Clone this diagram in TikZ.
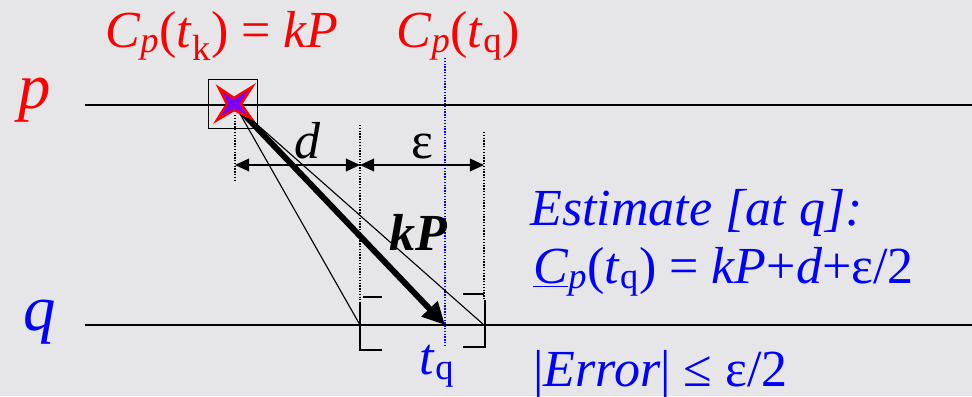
\documentclass[tikz,border=0pt]{standalone}
\usepackage{fontspec}
\newfontfamily\slidefont{Liberation Serif}
\usetikzlibrary{arrows.meta, positioning}
\definecolor{marble}{RGB}{230,230,232}
\definecolor{clockred}{RGB}{255,0,0}
\definecolor{clockblue}{RGB}{0,0,255}
\definecolor{starfill}{RGB}{120,0,255}
\newcommand{\sub}[1]{\textsubscript{#1}}

\begin{document}
\begin{tikzpicture}[x=0.025cm, y=-0.025cm,
          big/.style={font=\slidefont\fontsize{37}{44}\selectfont, inner sep=0pt},
          procl/.style={font=\slidefont\fontsize{46}{52}\selectfont\itshape, inner sep=0pt},
          timeline/.style={line width=1.2pt},
          guide/.style={densely dotted, line width=1pt},
          span/.style={{Triangle[length=10pt,width=9pt]}-{Triangle[length=10pt,width=9pt]},
                       line width=1.1pt},
          bracket/.style={line width=1.1pt},
      ]
      \useasboundingbox (0,0) rectangle (972,396);
      \fill[marble] (0,0) rectangle (972,396);

      % process lines
      \coordinate (pL) at (85,105);
      \coordinate (pR) at (972,105);
      \coordinate (qL) at (85,325);
      \coordinate (qR) at (972,325);
      \draw[timeline] (pL) -- (pR);
      \draw[timeline] (qL) -- (qR);
      \node[procl, clockred] (lblp) at (35,100) {p};
      \node[procl, clockblue] (lblq) at (40,322) {q};

      % sending and receiving points
      \coordinate (tk) at (235,105);
      \coordinate (qd) at (360,325);
      \coordinate (qt) at (445,325);
      \coordinate (qe) at (484,325);

      % guides
      \draw[guide] (235,115) -- (235,182);
      \draw[guide] (360,125) -- (360,300);
      \draw[guide] (484,132) -- (484,298);
      \draw[guide, clockblue] (445,58) -- (445,345);

      % message lines
      \draw[line width=0.8pt] (tk) -- (qd);
      \draw[line width=0.8pt] (tk) -- (qe);
      \draw[line width=4.2pt, -{Triangle[length=16pt,width=15pt]}] (tk) -- (qt);

      % star in its box
      \node[draw, line width=1.1pt, inner sep=0pt,
            minimum size=1.22cm] (box) at (233,104) {};
      \fill[starfill, draw=clockred, line width=1.8pt, line join=miter]
          (219,88) -- (234,98) -- (252,87) -- (241,104)
          -- (251,118) -- (234,110) -- (217,120) -- (227,104) -- cycle;

      % d and epsilon spans
      \coordinate (sa) at (235,165);
      \coordinate (sb) at (360,165);
      \coordinate (sc) at (484,165);
      \draw[span] (sa) -- node[big, pos=0.58, above=4pt] (lbld) {\textit{d}} (sb);
      \draw[span] (sb) -- node[big, above=4pt] (lble) {ε} (sc);

      % brackets
      \draw[bracket] (363,297) -- (382,297);
      \draw[bracket] (382,350) -- (360,350) -- (360,302);
      \draw[bracket] (463,294) -- (484,294);
      \draw[bracket] (485,300) -- (485,347) -- (463,347);

      % labels
      \node[big, font=\slidefont\fontsize{37}{44}\selectfont\bfseries\itshape] (lblkp)
          at (418,232) {kP};
      \node[big, clockblue] (lbltq) at (437,366) {\textit{t}\sub{q}};
      \node[big, clockred] (lbltk) at (222,36)
          {\textit{C}\sub{\textit{p}}(\textit{t}\sub{k}) = \textit{kP}};
      \node[big, clockred] (lblcq) at (458,36)
          {\textit{C}\sub{\textit{p}}(\textit{t}\sub{q})};

      % estimate
      \node[big, clockblue, anchor=west] (est) at (530,213)
          {\textit{Estimate [at q]:}};
      \node[big, clockblue, anchor=west] (estf) at (533,272)
          {\underline{\textit{C}}\sub{\textit{p}}(\textit{t}\sub{q}) = \textit{kP}+\textit{d}+ε/2};
      \node[big, clockblue, anchor=west] (err) at (533,374)
          {|\textit{Error}| ≤ ε/2};
      \end{tikzpicture}
\end{document}
